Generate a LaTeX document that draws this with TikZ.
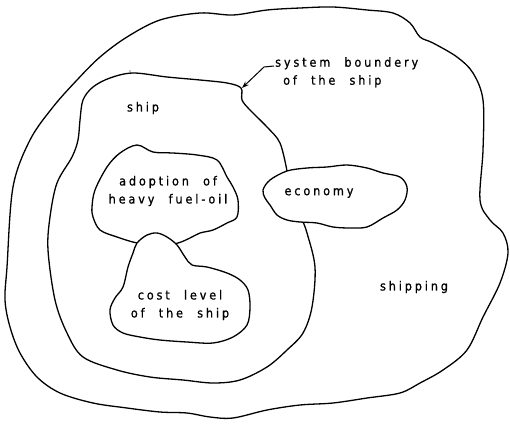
\documentclass[tikz,border=0pt]{standalone}
\usepackage{fontspec}
\setmainfont{DejaVu Sans}[FakeStretch=0.9,FakeBold=0.8,LetterSpace=23,WordSpace=2.2]
\usetikzlibrary{arrows.meta}
\begin{document}
\begin{tikzpicture}[x=1pt,y=-1pt,
  blob/.style={line width=1.3pt,line join=round},
  lbl/.style={font=\fontsize{12.5}{18}\selectfont,inner sep=0pt}]
\useasboundingbox (0,0) rectangle (510,423);
% outer boundary (shipping)
\draw[blob] plot[smooth cycle,tension=0.55] coordinates {
(7,267) (13,187) (30,140) (53,107) (77,80) (100,57) (127,37) (160,20) (200,13) (233,15) (267,10) (300,8) (333,7) (367,10) (393,13) (410,23) (420,37) (433,43) (457,57) (473,73) (483,100) (483,150) (480,200) (490,220) (503,233) (508,253) (500,283) (483,317) (467,350) (443,370) (420,383) (400,393) (367,398) (333,403) (300,405) (267,410) (233,418) (210,417) (187,413) (160,412) (127,408) (93,403) (60,393) (37,377) (20,353) (10,327) (5,300)};
% ship boundary
\draw[blob] plot[smooth,tension=0.55] coordinates {
(287,171) (280,143) (267,127) (250,110) (242,100) (241,88) (227,83) (200,80) (167,77) (133,73) (110,78) (93,87) (83,100) (80,120) (78,140) (72,157) (57,183) (50,217) (48,250) (55,300) (67,333) (83,357) (117,370) (150,377) (183,380) (213,383) (240,380) (267,367) (287,350) (303,333) (312,307) (315,267) (307,233) (303,222)};
% economy
\draw[blob,fill=white] plot[smooth cycle,tension=0.55] coordinates {
(263,190) (270,180) (287,171) (307,168) (327,167) (347,165) (367,168) (383,173) (400,177) (407,187) (405,200) (397,210) (383,218) (367,227) (350,228) (333,227) (317,223) (300,222) (287,220) (277,215) (270,205) (265,198)};
% adoption of heavy fuel-oil
\draw[blob] plot[smooth cycle,tension=0.55] coordinates {
(92,207) (95,190) (107,167) (120,153) (137,145) (153,152) (173,153) (197,155) (217,160) (227,177) (233,187) (238,200) (237,217) (227,223) (213,230) (200,233) (190,238) (178,243) (160,246) (137,243) (117,237) (100,230) (93,217)};
% cost level of the ship
\draw[blob,fill=white] plot[smooth cycle,tension=0.55] coordinates {
(137,243) (147,235) (157,233) (167,237) (177,245) (185,257) (192,265) (207,267) (227,273) (240,280) (248,290) (250,307) (247,325) (233,337) (213,343) (187,342) (160,340) (140,337) (123,333) (113,325) (110,310) (115,298) (123,287) (128,267) (133,253)};
% small mark
\fill (130,71) circle (0.6pt);
% labels
\node[lbl] (ship) at (143,108) {ship};
\node[lbl,align=center] (adopt) at (168,191) {adoption of\\heavy fuel-oil};
\node[lbl] (econ) at (319,193) {economy};
\node[lbl,align=center] (cost) at (180,305) {cost level\\of the ship};
\node[lbl] (shipping) at (414,287) {shipping};
\node[lbl,align=left,anchor=north west] (sysb) at (275,57) {system boundery\\\hspace*{8pt}of the ship};
% pointer
\coordinate (ptrstart) at (274,66);
\coordinate (ptrbend) at (264,67);
\coordinate (bnd) at (242,88);
\draw[line width=1pt,-{Stealth[length=7pt,width=5pt]}] (ptrstart) -- (ptrbend) -- (bnd);
\end{tikzpicture}
\end{document}
